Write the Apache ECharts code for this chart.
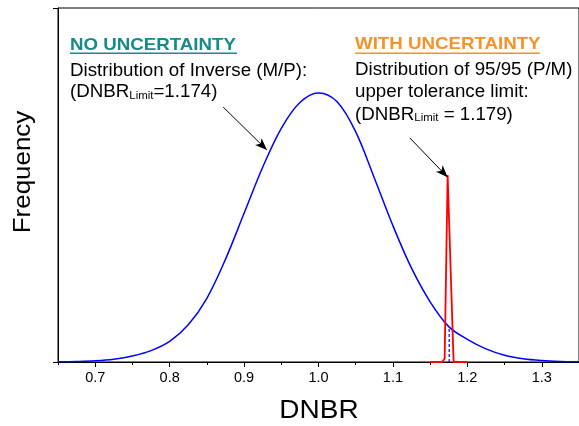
<!DOCTYPE html>
<html>
<head>
<meta charset="utf-8">
<script src="https://cdn.jsdelivr.net/npm/echarts@6/dist/echarts.min.js"></script>
<style>
  html, body { margin: 0; padding: 0; background: #fff; }
  #chart { width: 579px; height: 426px; }
</style>
</head>
<body>
<div id="chart"></div>
<script>
// blue curve: distribution of inverse (M/P)
var dnbr = [0.65, 0.675, 0.7, 0.725, 0.75, 0.775, 0.8, 0.825, 0.85, 0.875, 0.9, 0.925, 0.95, 0.975,
  1.0, 1.025, 1.05, 1.075, 1.1, 1.125, 1.15, 1.175, 1.2, 1.225, 1.25, 1.275, 1.3, 1.325, 1.35];
var freqNoUnc = [0.05, 0.15, 0.35, 0.8, 1.7, 3.2, 5.8, 10.5, 18, 29, 42, 55, 66, 73.3,
  76, 73.5, 65, 52, 38.5, 26.5, 17, 10, 6.4, 3.7, 1.9, 0.9, 0.4, 0.15, 0.05];
// red spike: 95/95 upper tolerance limit
var spikeDnbr = [1.15, 1.166, 1.1695, 1.1735, 1.1755, 1.1815, 1.2];
var spikeFreq = [0, 0, 1, 52.8, 52.8, 0, 0];
// dashed limit line
var limitDnbr = [1.1756, 1.1756];
var limitFreq = [0, 9.6];
var majorTicks = [0.7, 0.8, 0.9, 1.0, 1.1, 1.2, 1.3];
var minorTicks = [0.65, 0.75, 0.85, 0.95, 1.05, 1.15, 1.25, 1.35];
var arrowNoUnc = [[0.872, 72.0], [0.9307, 59.9]];
var arrowWithUnc = [[1.1227, 63.3], [1.1735, 52.2]];

var FONT = "'Liberation Sans', Arial, sans-serif";
var TEAL = '#178a8a';
var ORANGE = '#f5922a';

function zip(xs, ys) {
  var out = [];
  for (let i = 0; i < xs.length; i++) out.push([xs[i], ys[i]]);
  return out;
}

function txt(x, y, text, size, color, bold, sx) {
  return {
    type: 'text', x: x, y: y, scaleX: sx || 1.04, silent: true,
    style: {
      text: text, x: 0, y: 0, fill: color || '#000',
      fontFamily: FONT, fontSize: size, fontWeight: bold ? 'bold' : 'normal',
      align: 'left', verticalAlign: 'middle',
      rich: {
        b: { fontFamily: FONT, fontSize: size, lineHeight: 18, fill: '#000' },
        sub: { fontFamily: FONT, fontSize: 11, lineHeight: 2, verticalAlign: 'bottom', fill: '#000' }
      }
    }
  };
}

function underline(x, y, w, color) {
  return { type: 'rect', silent: true, shape: { x: x, y: y, width: w, height: 1.6 }, style: { fill: color } };
}

function creatChart(dom) {
  var myChart = echarts.init(dom, null, { renderer: 'canvas' });
  var option = {
    animation: false,
    backgroundColor: '#fff',
    grid: { left: 58, top: 8, width: 525, height: 354, show: true, borderColor: '#000', borderWidth: 1 },
    xAxis: [{
      type: 'value', min: 0.65, max: 1.35,
      axisLine: { lineStyle: { color: '#000', width: 1 } },
      axisTick: { customValues: majorTicks, length: 5, lineStyle: { color: '#000' } },
      axisLabel: {
        customValues: majorTicks, color: '#000', fontFamily: FONT, fontSize: 14.5, margin: 8,
        formatter: function (v) { return v.toFixed(1); }
      },
      splitLine: { show: false }
    }, {
      type: 'value', min: 0.65, max: 1.35, position: 'bottom',
      axisLine: { show: false },
      axisTick: { customValues: minorTicks, length: 3, lineStyle: { color: '#000' } },
      axisLabel: { show: false },
      splitLine: { show: false }
    }],
    yAxis: {
      type: 'value', min: 0, max: 100, interval: 100,
      axisLine: { show: true, lineStyle: { color: '#000', width: 1 } },
      axisTick: { show: true, length: 5, lineStyle: { color: '#000' } },
      axisLabel: { show: false },
      splitLine: { show: false }
    },
    series: [{
      type: 'line', data: zip(dnbr, freqNoUnc), smooth: 0.35, symbol: 'none',
      lineStyle: { color: '#0000ff', width: 1.5 },
      markLine: {
        silent: true, animation: false, symbol: ['none', 'arrow'], symbolSize: [7, 12],
        label: { show: false },
        lineStyle: { color: '#000', width: 1, type: 'solid' },
        data: [
          [{ coord: arrowNoUnc[0] }, { coord: arrowNoUnc[1] }],
          [{ coord: arrowWithUnc[0] }, { coord: arrowWithUnc[1] }]
        ]
      }
    }, {
      type: 'line', data: zip(spikeDnbr, spikeFreq), symbol: 'none',
      lineStyle: { color: '#ff0000', width: 1.8 }
    }, {
      type: 'line', data: zip(limitDnbr, limitFreq), symbol: 'none', z: 5,
      lineStyle: { color: '#0000ff', width: 1.2, type: [3, 2] }
    }],
    graphic: [
      txt(70, 45, 'NO UNCERTAINTY', 17, TEAL, true, 1.1),
      underline(70, 52.5, 167, TEAL),
      txt(70, 70.7, 'Distribution of Inverse (M/P):', 18),
      txt(70, 92.3, '{b|(DNBR}{sub|Limit}{b|=1.174)}', 18),
      txt(355, 44.7, 'WITH UNCERTAINTY', 17, ORANGE, true, 1.1),
      underline(355, 52.5, 185, ORANGE),
      txt(355, 69.7, 'Distribution of 95/95 (P/M)', 18),
      txt(355, 92.3, 'upper tolerance limit:', 18),
      txt(355, 114.7, '{b|(DNBR}{sub|Limit}{b| = 1.179)}', 18),
      {
        type: 'text', x: 23.5, y: 172, rotation: Math.PI / 2, scaleX: 1.08, silent: true,
        style: { text: 'Frequency', x: 0, y: 0, fill: '#000', fontFamily: FONT, fontSize: 24, align: 'center', verticalAlign: 'middle' }
      },
      {
        type: 'text', x: 319, y: 411, scaleX: 1.12, silent: true,
        style: { text: 'DNBR', x: 0, y: 0, fill: '#000', fontFamily: FONT, fontSize: 25, align: 'center', verticalAlign: 'middle' }
      }
    ]
  };
  myChart.setOption(option);
}

creatChart(document.getElementById('chart'));
</script>
</body>
</html>
